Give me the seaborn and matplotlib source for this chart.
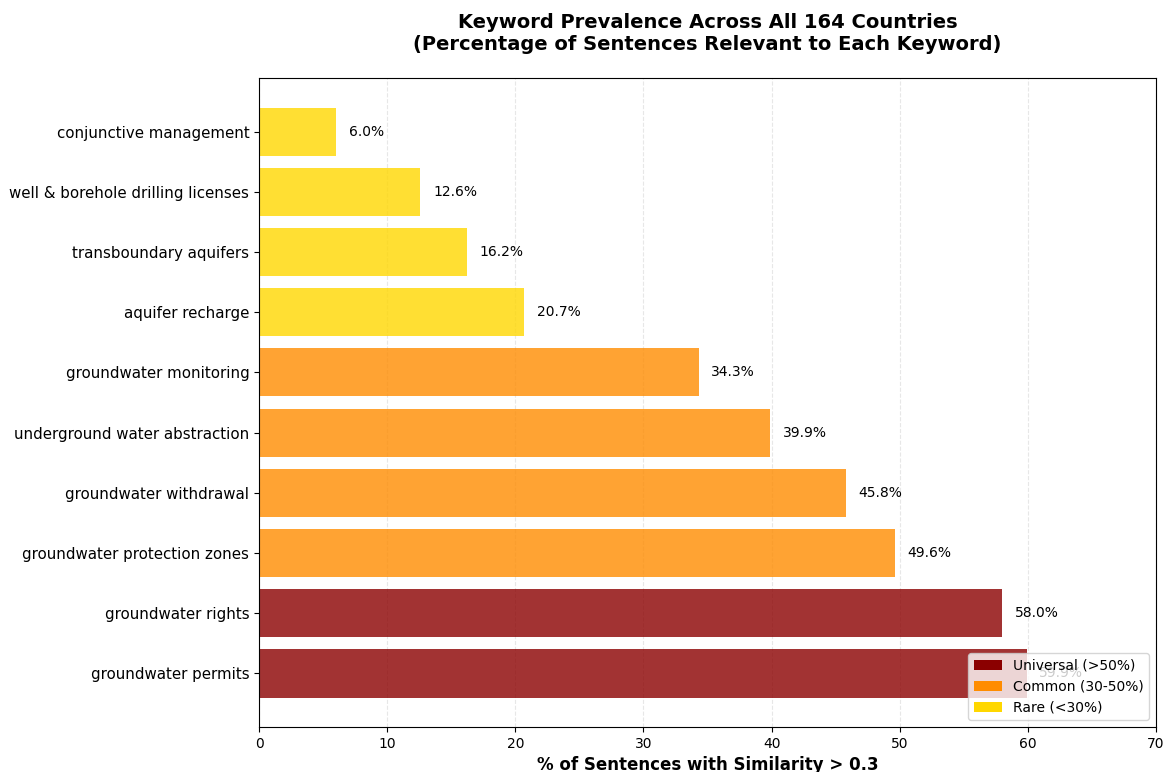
import matplotlib
matplotlib.use("Agg")
import matplotlib.pyplot as plt
from matplotlib.patches import Patch
import seaborn as sns
import pandas as pd

keywords = [
    "conjunctive management",
    "well & borehole drilling licenses",
    "transboundary aquifers",
    "aquifer recharge",
    "groundwater monitoring",
    "underground water abstraction",
    "groundwater withdrawal",
    "groundwater protection zones",
    "groundwater rights",
    "groundwater permits",
]
prevalence = [6.0, 12.6, 16.2, 20.7, 34.3, 39.9, 45.8, 49.6, 58.0, 59.9]

tier_names = ["Universal (>50%)", "Common (30-50%)", "Rare (<30%)"]
tier_colors = ["darkred", "darkorange", "gold"]


def tier(v):
    if v > 50:
        return tier_names[0]
    if v >= 30:
        return tier_names[1]
    return tier_names[2]


df = pd.DataFrame({"keyword": keywords, "pct": prevalence})
df["tier"] = [tier(v) for v in prevalence]

fig = plt.figure(figsize=(11.64, 7.72), dpi=100)
ax = fig.add_axes([259 / 1164, 45 / 772, 897 / 1164, 649 / 772])

sns.barplot(
    data=df, x="pct", y="keyword", hue="tier", order=keywords,
    hue_order=tier_names, palette=dict(zip(tier_names, tier_colors)),
    dodge=False, orient="h", alpha=0.8, width=0.8, saturation=1,
    legend=False, ax=ax,
)

for i, v in enumerate(prevalence):
    ax.text(v + 1, i, f"{v:.1f}%", va="center", ha="left", fontsize=10)

ax.set_xlim(0, 70)
ax.set_ylim(len(keywords) - 1 + 0.89, -0.89)
ax.set_ylabel("")
ax.set_xlabel("% of Sentences with Similarity > 0.3", fontsize=12, fontweight="bold")
ax.set_title("Keyword Prevalence Across All 164 Countries\n"
             "(Percentage of Sentences Relevant to Each Keyword)",
             fontsize=14, fontweight="bold", pad=20)
ax.tick_params(axis="y", labelsize=10.8)
ax.tick_params(axis="x", labelsize=10)
ax.xaxis.grid(True, linestyle="--", alpha=0.3)
ax.set_axisbelow(True)

handles = [Patch(facecolor=c, label=n) for n, c in zip(tier_names, tier_colors)]
ax.legend(handles=handles, loc="lower right", fontsize=10, framealpha=0.8)

fig.savefig("out.png", dpi=100)
